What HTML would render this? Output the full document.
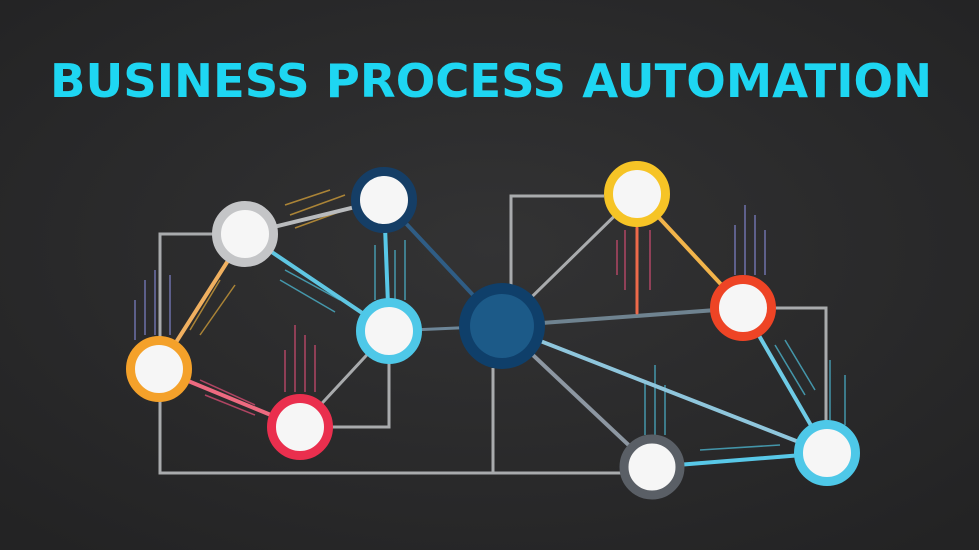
<!DOCTYPE html>
<html><head><meta charset="utf-8"><style>
html,body{margin:0;padding:0;background:#2a2a2b;}
svg{display:block}
</style></head><body>
<svg width="979" height="550" viewBox="0 0 979 550" xmlns="http://www.w3.org/2000/svg">
<defs>
<radialGradient id="bg" cx="50%" cy="45%" r="70%">
<stop offset="0" stop-color="#333334"/><stop offset="1" stop-color="#232324"/>
</radialGradient>
</defs>
<rect width="979" height="550" fill="url(#bg)"/>
<text x="491" y="97" text-anchor="middle" font-family="DejaVu Sans, Liberation Sans, sans-serif" font-weight="bold" font-size="46" fill="#1ed6f2" textLength="882" lengthAdjust="spacingAndGlyphs">BUSINESS PROCESS AUTOMATION</text>

<g fill="none" stroke="#a9abad" stroke-width="3">
<polyline points="215,234 160,234 160,473 493,473 493,368"/>
<polyline points="389,362 389,427 330,427"/>
<polyline points="511,285 511,196 604,196"/>
<polyline points="493,473 622,473"/>
<polyline points="775,308 826,308 826,421"/>
</g>
<g stroke-width="1.5" opacity="0.7">
<g stroke="#e0a93a"><line x1="290" y1="215" x2="345" y2="195"/><line x1="295" y1="228" x2="350" y2="208"/><line x1="285" y1="205" x2="330" y2="190"/><line x1="190" y1="330" x2="220" y2="280"/><line x1="200" y1="335" x2="235" y2="285"/></g>
<g stroke="#4fc4e0"><line x1="285" y1="270" x2="340" y2="300"/><line x1="280" y1="280" x2="335" y2="312"/><line x1="375" y1="245" x2="375" y2="300"/><line x1="405" y1="240" x2="405" y2="300"/><line x1="395" y1="250" x2="395" y2="300"/><line x1="775" y1="345" x2="805" y2="395"/><line x1="785" y1="340" x2="815" y2="390"/><line x1="700" y1="450" x2="780" y2="445"/><line x1="700" y1="462" x2="780" y2="458"/><line x1="655" y1="365" x2="655" y2="435"/><line x1="645" y1="380" x2="645" y2="435"/><line x1="665" y1="385" x2="665" y2="435"/><line x1="830" y1="360" x2="830" y2="420"/><line x1="845" y1="375" x2="845" y2="425"/></g>
<g stroke="#8a8fe0"><line x1="145" y1="280" x2="145" y2="335"/><line x1="155" y1="270" x2="155" y2="335"/><line x1="170" y1="275" x2="170" y2="335"/><line x1="135" y1="300" x2="135" y2="340"/><line x1="745" y1="205" x2="745" y2="275"/><line x1="755" y1="215" x2="755" y2="275"/><line x1="735" y1="225" x2="735" y2="275"/><line x1="765" y1="230" x2="765" y2="275"/></g>
<g stroke="#e8507a"><line x1="295" y1="325" x2="295" y2="392"/><line x1="305" y1="335" x2="305" y2="392"/><line x1="285" y1="350" x2="285" y2="392"/><line x1="315" y1="345" x2="315" y2="392"/><line x1="200" y1="380" x2="255" y2="405"/><line x1="205" y1="395" x2="255" y2="415"/><line x1="625" y1="230" x2="625" y2="290"/><line x1="650" y1="230" x2="650" y2="290"/><line x1="617" y1="240" x2="617" y2="275"/></g>
</g>
<g stroke-width="4" stroke-linecap="round">
<line x1="245" y1="234" x2="384" y2="200" stroke="#b9bbbd"/>
<line x1="245" y1="234" x2="389" y2="331" stroke="#5fc6e2"/>
<line x1="245" y1="234" x2="159" y2="369" stroke="#f0b060"/>
<line x1="159" y1="369" x2="300" y2="427" stroke="#ee6a80"/>
<line x1="300" y1="427" x2="389" y2="331" stroke="#a9abad" stroke-width="3"/>
<line x1="384" y1="200" x2="389" y2="331" stroke="#58c8e8"/>
<line x1="384" y1="200" x2="502" y2="326" stroke="#2f5d85"/>
<line x1="389" y1="331" x2="502" y2="326" stroke="#6d8698" stroke-width="3"/>
<line x1="502" y1="326" x2="637" y2="194" stroke="#a9abad" stroke-width="3"/>
<line x1="502" y1="326" x2="743" y2="308" stroke="#6f8390"/>
<line x1="502" y1="326" x2="827" y2="453" stroke="#8fc6dc"/>
<line x1="502" y1="326" x2="652" y2="467" stroke="#8d97a2"/>
<line x1="637" y1="194" x2="743" y2="308" stroke="#f2b44a"/>
<line x1="637" y1="228" x2="637" y2="313" stroke="#ee6a4a" stroke-width="3"/>
<line x1="743" y1="308" x2="827" y2="453" stroke="#6ecbe6"/>
<line x1="652" y1="467" x2="827" y2="453" stroke="#58c8e8"/>
</g>
<g stroke-width="9" fill="#f6f6f6">
<circle cx="245" cy="234" r="28.5" stroke="#c4c5c7"/>
<circle cx="384" cy="200" r="28.5" stroke="#153e66"/>
<circle cx="389" cy="331" r="28.5" stroke="#4ec8e8"/>
<circle cx="159" cy="369" r="28.5" stroke="#f4a12a"/>
<circle cx="300" cy="427" r="28.5" stroke="#ea2f4e"/>
<circle cx="637" cy="194" r="28.5" stroke="#f6c426"/>
<circle cx="743" cy="308" r="28.5" stroke="#ee4425"/>
<circle cx="652" cy="467" r="28" stroke="#5a5f66"/>
<circle cx="827" cy="453" r="28.5" stroke="#4ec8e8"/>
</g>
<circle cx="502" cy="326" r="43" fill="#0f3f6a"/>
<circle cx="502" cy="326" r="32" fill="#1c5a88"/>
</svg>
</body></html>
